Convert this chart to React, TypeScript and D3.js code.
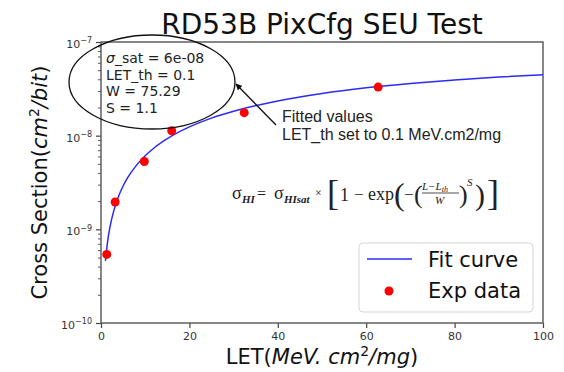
import { useEffect, useRef } from 'react'
import * as d3 from 'd3'

// measured cross sections (LET in MeV.cm2/mg, sigma in cm2/bit)
const expLet = [1.3, 3.2, 9.8, 16, 32.4, 62.7]
const expSigma = [5.4e-10, 1.96e-9, 5.3e-9, 1.13e-8, 1.76e-8, 3.3e-8]

// fit curve
const fitLet = [1, 1.5, 2, 3, 4, 5, 6, 8, 10, 12, 15, 20, 25, 30, 40, 50, 60, 70, 80, 90, 100]
const fitSigma = [
  4.6e-10, 7.45e-10, 1.04e-9, 1.646e-9, 2.27e-9, 2.9e-9, 3.54e-9, 4.82e-9, 6.1e-9, 7.39e-9, 9.29e-9,
  1.24e-8, 1.54e-8, 1.82e-8, 2.35e-8, 2.82e-8, 3.24e-8, 3.61e-8, 3.94e-8, 4.22e-8, 4.47e-8,
]

const xTicks = [0, 20, 40, 60, 80, 100]
const yExponents = [-10, -9, -8, -7]
const fitParams = ['σ_sat = 6e-08', 'LET_th = 0.1', 'W = 75.29', 'S = 1.1']
const noteLines = ['Fitted values', 'LET_th set to 0.1 MeV.cm2/mg']
const legendLabels = ['Fit curve', 'Exp data']

const SANS = 'DejaVu Sans, sans-serif'
const SERIF = 'Liberation Serif, DejaVu Serif, serif'

function App() {
  const svgRef = useRef<SVGSVGElement>(null)

  useEffect(() => {
    if (!svgRef.current) return
    const svg = d3.select(svgRef.current)
    svg.selectAll('*').remove()

    const W = 564
    const H = 372
    const margin = { top: 42, right: 21, bottom: 49, left: 101 }

    const x = d3.scaleLinear().domain([0, 100]).range([margin.left, W - margin.right])
    const y = d3.scaleLog().domain([1e-10, 1e-7]).range([H - margin.bottom, margin.top])

    svg.append('rect').attr('width', W).attr('height', H).attr('fill', '#fff')

    // title
    svg
      .append('text')
      .attr('x', (margin.left + W - margin.right) / 2)
      .attr('y', 34)
      .attr('text-anchor', 'middle')
      .style('font-family', SANS)
      .style('font-size', '28px')
      .attr('fill', '#111')
      .text('RD53B PixCfg SEU Test')

    // x axis
    const xAxis = svg
      .append('g')
      .attr('transform', `translate(0,${H - margin.bottom})`)
      .call(d3.axisBottom(x).tickValues(xTicks).tickSize(5).tickPadding(4).tickFormat(d3.format('d')))
    xAxis.select('.domain').remove()
    xAxis.selectAll('line').attr('stroke', '#444').attr('stroke-width', 1.2)
    xAxis.selectAll('text').style('font-family', SANS).style('font-size', '11px').attr('fill', '#333')

    // y axis, major ticks with 10^n labels
    const yAxis = svg
      .append('g')
      .attr('transform', `translate(${margin.left},0)`)
      .call(
        d3
          .axisLeft(y)
          .tickValues(yExponents.map((e) => Math.pow(10, e)))
          .tickSize(5)
          .tickPadding(4)
          .tickFormat(() => '10'),
      )
    yAxis.select('.domain').remove()
    yAxis.selectAll('line').attr('stroke', '#444').attr('stroke-width', 1.2)
    yAxis
      .selectAll<SVGTextElement, number>('text')
      .style('font-family', SANS)
      .style('font-size', '11px')
      .attr('fill', '#333')
      .attr('dy', '0.5em')
      .each(function (d) {
        const e = Math.round(Math.log10(d))
        const t = d3.select(this)
        t.text('10')
        t.append('tspan').attr('dy', '-0.6em').style('font-size', '8px').text(`−${-e}`)
      })

    // minor ticks
    const minor: number[] = []
    yExponents.slice(0, -1).forEach((e) => {
      for (let k = 2; k <= 9; k++) minor.push(k * Math.pow(10, e))
    })
    const yMinor = svg
      .append('g')
      .attr('transform', `translate(${margin.left},0)`)
      .call(d3.axisLeft(y).tickValues(minor).tickSize(3).tickFormat(() => ''))
    yMinor.select('.domain').remove()
    yMinor.selectAll('line').attr('stroke', '#444').attr('stroke-width', 0.9)

    // frame
    svg
      .append('rect')
      .attr('x', margin.left)
      .attr('y', margin.top)
      .attr('width', W - margin.left - margin.right)
      .attr('height', H - margin.top - margin.bottom)
      .attr('fill', 'none')
      .attr('stroke', '#555')
      .attr('stroke-width', 1.4)

    // axis labels
    const xLabel = svg
      .append('text')
      .attr('x', (margin.left + W - margin.right) / 2)
      .attr('y', 364)
      .attr('text-anchor', 'middle')
      .style('font-family', SANS)
      .style('font-size', '21px')
      .attr('fill', '#111')
    xLabel.append('tspan').text('LET(')
    xLabel.append('tspan').style('font-style', 'italic').text('MeV. cm')
    xLabel.append('tspan').attr('dy', -8).style('font-size', '14px').text('2')
    xLabel.append('tspan').attr('dy', 8).style('font-style', 'italic').text('/mg')
    xLabel.append('tspan').text(')')

    const yLabel = svg
      .append('text')
      .attr('transform', `translate(47,${(margin.top + H - margin.bottom) / 2}) rotate(-90)`)
      .attr('text-anchor', 'middle')
      .style('font-family', SANS)
      .style('font-size', '21px')
      .attr('fill', '#111')
    yLabel.append('tspan').text('Cross Section(')
    yLabel.append('tspan').style('font-style', 'italic').text('cm')
    yLabel.append('tspan').attr('dy', -8).style('font-size', '14px').text('2')
    yLabel.append('tspan').attr('dy', 8).style('font-style', 'italic').text('/bit')
    yLabel.append('tspan').text(')')

    // fit curve
    const fitData = fitLet.map((l, i) => [l, fitSigma[i]] as [number, number])
    const line = d3
      .line<[number, number]>()
      .x((d) => x(d[0]))
      .y((d) => y(d[1]))
      .curve(d3.curveMonotoneX)
    svg
      .append('path')
      .datum(fitData)
      .attr('d', line)
      .attr('fill', 'none')
      .attr('stroke', '#2a2aff')
      .attr('stroke-width', 1.5)

    // measured points
    svg
      .selectAll('.exp')
      .data(expLet.map((l, i) => [l, expSigma[i]]))
      .enter()
      .append('circle')
      .attr('class', 'exp')
      .attr('cx', (d) => x(d[0]))
      .attr('cy', (d) => y(d[1]))
      .attr('r', 4.5)
      .attr('fill', '#ff0000')

    // parameter ellipse
    svg
      .append('ellipse')
      .attr('cx', 152)
      .attr('cy', 82)
      .attr('rx', 83)
      .attr('ry', 47)
      .attr('fill', 'none')
      .attr('stroke', '#111')
      .attr('stroke-width', 1.3)

    fitParams.forEach((p, i) => {
      const t = svg
        .append('text')
        .attr('x', 106)
        .attr('y', 63 + i * 16.7)
        .style('font-family', SANS)
        .style('font-size', '14px')
        .attr('fill', '#222')
      if (p.startsWith('σ')) {
        t.append('tspan').style('font-style', 'italic').text('σ')
        t.append('tspan').text(p.slice(1))
      } else {
        t.text(p)
      }
    })

    // arrow to the ellipse
    svg
      .append('defs')
      .append('marker')
      .attr('id', 'arrowHead')
      .attr('viewBox', '0 0 10 10')
      .attr('refX', 9)
      .attr('refY', 5)
      .attr('markerWidth', 5)
      .attr('markerHeight', 5)
      .attr('orient', 'auto')
      .append('path')
      .attr('d', 'M0,0L10,5L0,10z')
      .attr('fill', '#111')
    svg
      .append('line')
      .attr('x1', 276)
      .attr('y1', 125)
      .attr('x2', 236)
      .attr('y2', 84)
      .attr('stroke', '#111')
      .attr('stroke-width', 1.3)
      .attr('marker-end', 'url(#arrowHead)')

    noteLines.forEach((n, i) => {
      svg
        .append('text')
        .attr('x', 282)
        .attr('y', 122 + i * 18)
        .style('font-family', 'Liberation Sans, Arial, sans-serif')
        .style('font-size', '16px')
        .attr('fill', '#222')
        .text(n)
    })

    // formula
    const f = svg.append('g').style('font-family', SERIF).attr('fill', '#222')
    const put = (tx: number, ty: number, size: number, s: string, italic = false) =>
      f
        .append('text')
        .attr('x', tx)
        .attr('y', ty)
        .style('font-size', `${size}px`)
        .style('font-style', italic ? 'italic' : 'normal')
        .text(s)
    put(232, 199, 18, 'σ')
    put(242, 203, 11, 'HI', true).style('font-weight', 'bold')
    put(257, 199, 16, '=')
    put(274, 199, 18, 'σ')
    put(284, 203, 11, 'HIsat', true).style('font-weight', 'bold')
    put(315, 197, 12, '×')
    put(327, 205, 36, '[')
    put(340, 201, 18, '1')
    put(354, 200, 17, '−')
    put(368, 200, 18, 'exp')
    put(394, 205, 32, '(')
    put(404, 200, 17, '−')
    put(414, 203, 26, '(')
    const num = put(422, 190, 11, 'L−L', true)
    num.append('tspan').attr('dy', 2).style('font-size', '8px').text('th')
    f.append('line').attr('x1', 422).attr('x2', 459).attr('y1', 193).attr('y2', 193).attr('stroke', '#222').attr('stroke-width', 0.8)
    put(435, 204, 11, 'W', true)
    put(459, 203, 26, ')')
    put(467, 186, 11, 'S', true)
    put(475, 205, 30, ')')
    put(487, 205, 36, ']')

    // legend
    const lg = svg.append('g')
    lg.append('rect')
      .attr('x', 359)
      .attr('y', 243)
      .attr('width', 174)
      .attr('height', 69)
      .attr('rx', 4)
      .attr('fill', '#fff')
      .attr('fill-opacity', 0.8)
      .attr('stroke', '#d5d5d5')
    lg.append('line').attr('x1', 367).attr('x2', 412).attr('y1', 259).attr('y2', 259).attr('stroke', '#2a2aff').attr('stroke-width', 1.5)
    lg.append('circle').attr('cx', 389).attr('cy', 291).attr('r', 4.5).attr('fill', '#ff0000')
    legendLabels.forEach((l, i) => {
      lg.append('text')
        .attr('x', 428)
        .attr('y', 267 + i * 31)
        .style('font-family', SANS)
        .style('font-size', '21px')
        .attr('fill', '#111')
        .text(l)
    })
  }, [])

  return <svg ref={svgRef} width={564} height={372} style={{ position: 'absolute', left: 0, top: 0 }} />
}

export default App
